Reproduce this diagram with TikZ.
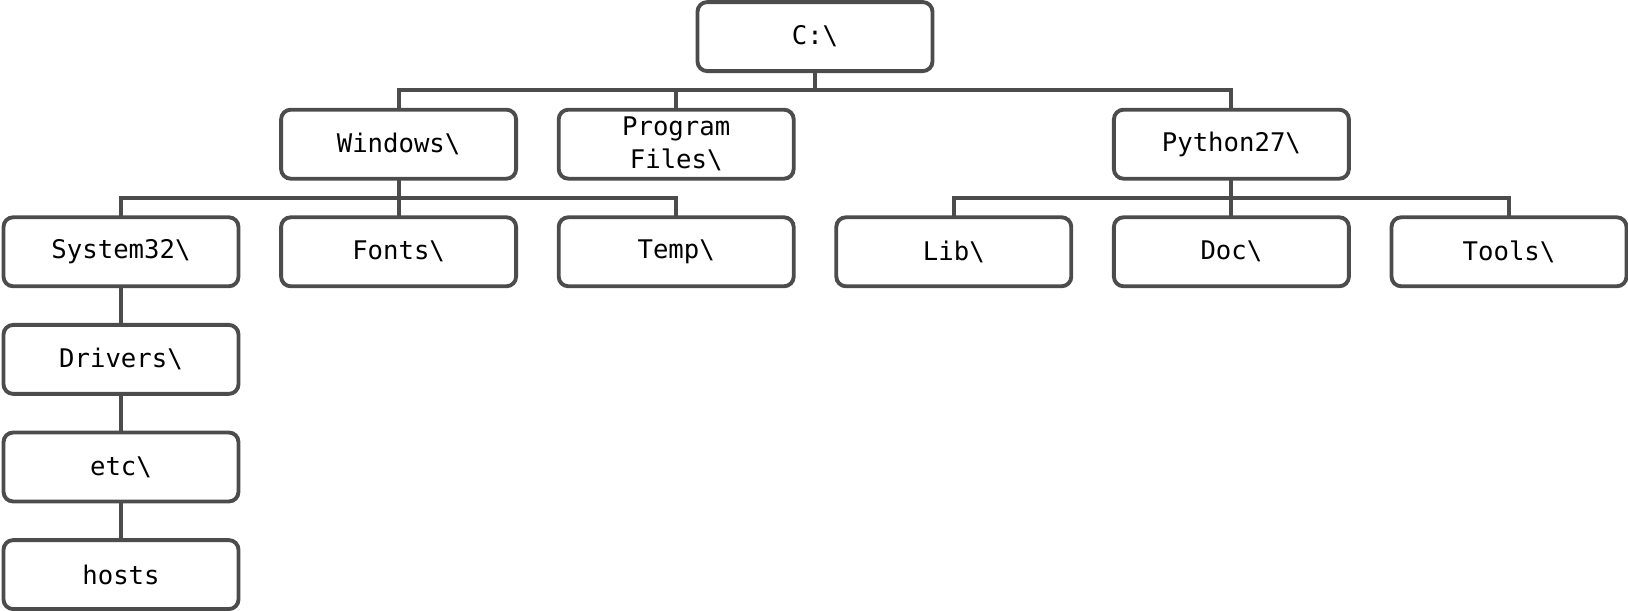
\documentclass[tikz,border=0pt]{standalone}
\usepackage{fontspec}
\newfontfamily\dirfont{DejaVu Sans Mono}
\usetikzlibrary{positioning, calc}

\begin{document}
\begin{tikzpicture}[
  node distance=0.772cm and 0.852cm,
  folder/.style={
    rectangle,
    draw=black!70,
    line width=2.2pt,
    rounded corners=5.5pt,
    align=center,
    minimum width=4.70cm,
    minimum height=1.38cm,
    inner sep=0pt,
    outer sep=0pt,
    font=\dirfont\fontsize{14.6}{18.8}\selectfont
  },
  link/.style={draw=black!70, line width=2.2pt}
]

\useasboundingbox (-2.42,-7.184) rectangle (30.14,5.036);

\node[folder] (system32) {System32\textbackslash};
\node[folder, right=of system32] (fonts) {Fonts\textbackslash};
\node[folder, right=of fonts] (temp) {Temp\textbackslash};
\node[folder, right=of temp] (lib) {Lib\textbackslash};
\node[folder, right=of lib] (doc) {Doc\textbackslash};
\node[folder, right=of doc] (tools) {Tools\textbackslash};

\node[folder, above=of fonts] (windows) {Windows\textbackslash};
\node[folder, above=of temp] (progfiles) {Program\\Files\textbackslash};
\node[folder, above=of doc] (python) {Python27\textbackslash};
\path (windows.north) -- (python.north) coordinate[midway] (top);
\node[folder, above=of top] (root) {C:\textbackslash};

\node[folder, below=of system32] (drivers) {Drivers\textbackslash};
\node[folder, below=of drivers] (etc) {etc\textbackslash};
\node[folder, below=of etc] (hosts) {hosts};

\draw[link] (root.south) -- ++(0,-0.386) -| (windows.north);
\draw[link] (root.south) -- ++(0,-0.386) -| (progfiles.north);
\draw[link] (root.south) -- ++(0,-0.386) -| (python.north);
\draw[link] (windows.south) -- ++(0,-0.386) -| (system32.north);
\draw[link] (windows.south) -- ++(0,-0.386) -| (fonts.north);
\draw[link] (windows.south) -- ++(0,-0.386) -| (temp.north);
\draw[link] (python.south) -- ++(0,-0.386) -| (lib.north);
\draw[link] (python.south) -- ++(0,-0.386) -| (doc.north);
\draw[link] (python.south) -- ++(0,-0.386) -| (tools.north);
\draw[link] (system32) -- (drivers);
\draw[link] (drivers) -- (etc);
\draw[link] (etc) -- (hosts);

\end{tikzpicture}
\end{document}
